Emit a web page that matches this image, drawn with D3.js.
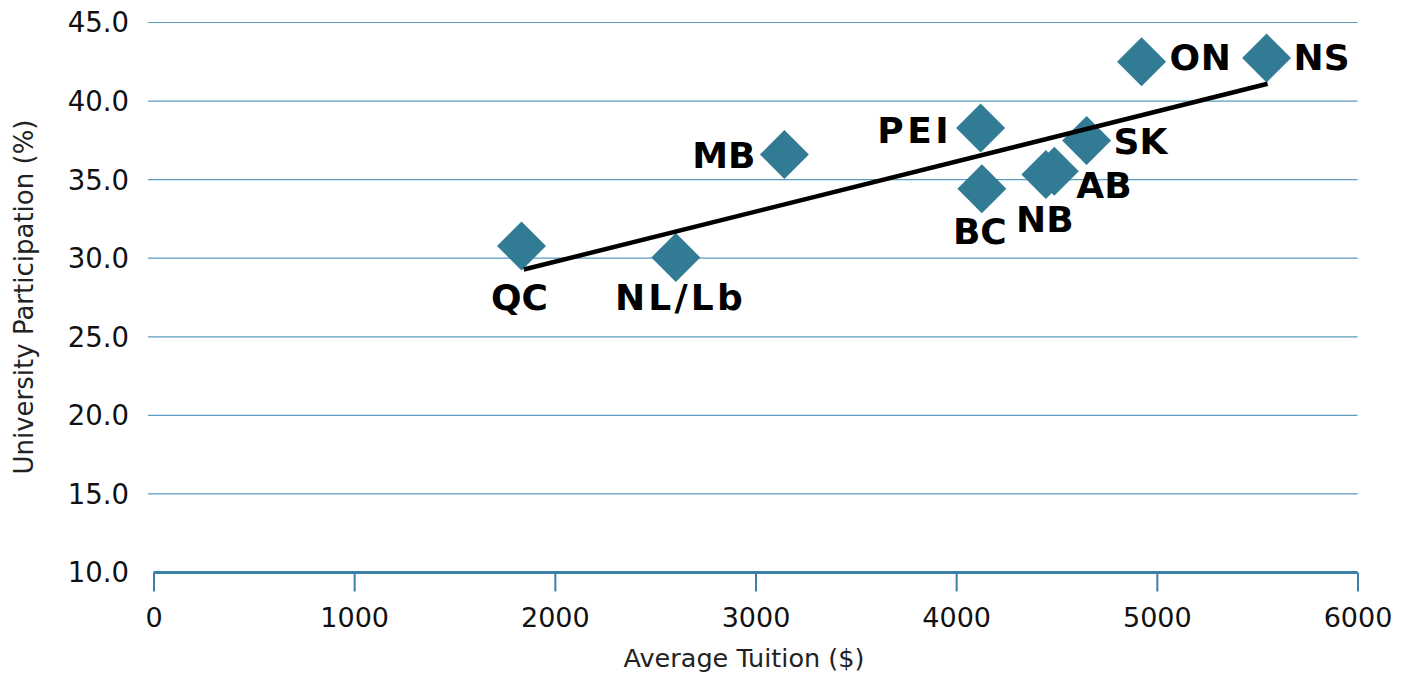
<!DOCTYPE html>
<html><head><meta charset="utf-8">
<script src="https://cdn.jsdelivr.net/npm/d3@7"></script>
<style>body{margin:0;background:#fff}svg{display:block;font-family:"DejaVu Sans",Verdana,sans-serif}</style>
</head><body><svg id="c" width="1407" height="674"></svg>
<script>
const provinces = ["QC","NL/Lb","MB","PEI","BC","NB","AB","SK","ON","NS"];
const tuition = [1834,2603,3144,4122,4128,4447,4489,4650,4924,5547];
const participation = [30.78,30.05,36.60,38.29,34.42,35.33,35.54,37.49,42.50,42.74];
const trendTuition = [1845,5552];
const trendParticipation = [29.28,41.10];
const xTicks = [0,1000,2000,3000,4000,5000,6000];
const yTicks = [10,15,20,25,30,35,40,45];
const xTitle = "Average Tuition ($)";
const yTitle = "University Participation (%)";

// label layout (not data)
const labelSide = ["below","below","left","left","below","below","right","right","right","right"];
const labelNudge = [[-2,9],[3,-2],[0,0],[-3,2],[-2,0],[-1,3],[-6,14],[-1,0],[0,-5],[-1,-1]];
const labelSpacing = [0,3.2,0,3.5,0,0,0,0,0.6,0];

const svg = d3.select("#c");
const x = d3.scaleLinear().domain([0,6000]).range([153.5,1357.5]);
const y = d3.scaleLinear().domain([10,45]).range([572.5,22.5]);

const gridColor = "#5b9cbf", axisColor = "#3a80a6", markColor = "#317b95";

// gridlines
svg.append("g").selectAll("line").data(yTicks.filter(t=>t>10)).join("line")
  .attr("x1",148).attr("x2",1357.5).attr("y1",d=>y(d)).attr("y2",d=>y(d))
  .attr("stroke",gridColor).attr("stroke-width",1.2);

// y tick labels
svg.append("g").selectAll("text").data(yTicks).join("text")
  .attr("x",129).attr("y",d=>y(d)).attr("dy","0.36em").attr("text-anchor","end")
  .attr("font-size",27.5).attr("fill","#111").text(d=>d.toFixed(1));

// x axis
const xAxis = d3.axisBottom(x).tickValues(xTicks).tickSize(19).tickPadding(14).tickFormat(d3.format("d"));
const gx = svg.append("g").attr("transform",`translate(0,${y(10)})`).call(xAxis);
gx.select(".domain").attr("d",`M${x(0)},0H${x(6000)}`).attr("stroke",axisColor).attr("stroke-width",3);
gx.selectAll(".tick line").attr("stroke",axisColor).attr("stroke-width",2);
gx.selectAll(".tick text").attr("font-size",27).attr("fill","#111")
  .attr("font-family",'"DejaVu Sans",Verdana,sans-serif').attr("dy",0).attr("y",54);

// axis titles
svg.append("text").attr("x",744).attr("y",667).attr("text-anchor","middle")
  .attr("font-size",25.5).attr("fill","#222").text(xTitle);
svg.append("text").attr("transform","translate(33,297) rotate(-90)").attr("text-anchor","middle")
  .attr("font-size",26).attr("fill","#222").text(yTitle);

const pts = provinces.map((p,i)=>({p, t:tuition[i], v:participation[i], side:labelSide[i], n:labelNudge[i], ls:labelSpacing[i]}));

// markers
const sym = d3.symbol(d3.symbolSquare, 1200);
svg.append("g").selectAll("path").data(pts).join("path")
  .attr("d",sym).attr("fill",markColor)
  .attr("transform",d=>`translate(${x(d.t)},${y(d.v)}) rotate(45)`);

// trend line
svg.append("path")
  .datum(trendTuition.map((t,i)=>[t,trendParticipation[i]]))
  .attr("d",d3.line().x(d=>x(d[0])).y(d=>y(d[1])))
  .attr("stroke","#000").attr("stroke-width",4.5).attr("fill","none");

// labels
svg.append("g").selectAll("text").data(pts).join("text")
  .attr("font-size",36).attr("font-weight","bold").attr("fill","#000")
  .attr("letter-spacing",d=>d.ls)
  .attr("text-anchor",d=>d.side==="below"?"middle":(d.side==="left"?"end":"start"))
  .attr("x",d=>x(d.t)+(d.side==="below"?0:(d.side==="left"?-29:28))+d.n[0]+(d.side==="left"?d.ls:(d.side==="below"?d.ls/2:0)))
  .attr("y",d=>y(d.v)+(d.side==="below"?55:13)+d.n[1])
  .text(d=>d.p);
</script></body></html>
